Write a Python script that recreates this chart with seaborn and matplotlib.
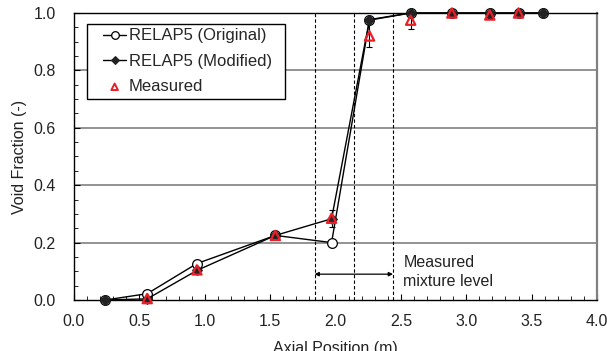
import matplotlib
matplotlib.use("Agg")
import matplotlib.pyplot as plt
import seaborn as sns
import pandas as pd
from matplotlib.ticker import MultipleLocator
from matplotlib.patches import Rectangle

sns.set_style("ticks")
plt.rcParams['font.family'] = ['Liberation Sans', 'DejaVu Sans']

x_model = [0.24, 0.56, 0.94, 1.54, 1.97, 2.26, 2.575, 2.89, 3.18, 3.40, 3.59]
y_original = [0.0, 0.022, 0.127, 0.225, 0.200, 0.975, 1.0, 1.0, 1.0, 1.0, 1.0]
y_modified = [0.0, 0.004, 0.103, 0.225, 0.283, 0.977, 1.0, 1.0, 1.0, 1.0, 1.0]

x_meas = [0.56, 0.94, 1.54, 1.97, 2.26, 2.575, 2.89, 3.18, 3.40]
y_meas = [0.005, 0.105, 0.225, 0.285, 0.920, 0.975, 1.0, 0.993, 1.0]
err_meas = [0.005, 0.01, 0.01, 0.03, 0.04, 0.03, 0.005, 0.01, 0.005]

level_lines = [1.84, 2.14, 2.44]

df_o = pd.DataFrame({"x": x_model, "y": y_original})
df_m = pd.DataFrame({"x": x_model, "y": y_modified})
df_e = pd.DataFrame({"x": x_meas, "y": y_meas, "e": err_meas})

FS = 11.5
TXT = "#222222"

fig = plt.figure(figsize=(6.07, 3.51), dpi=100)
ax = fig.add_axes([0.1219, 0.1453, 0.8616, 0.8177])

for yv in [0.2, 0.4, 0.6, 0.8]:
    ax.axhline(yv, color="#808080", lw=1.2, zorder=0)

for xv in level_lines:
    ax.axvline(xv, color="black", lw=0.8, ls=(0, (3, 2)), zorder=1)

ax.errorbar(df_e["x"], df_e["y"], yerr=df_e["e"], fmt="none", ecolor="black",
            elinewidth=0.8, capsize=2.5, capthick=0.8, zorder=2)

sns.lineplot(data=df_o, x="x", y="y", ax=ax, color="black", lw=1.0, marker="o",
             markersize=7, markerfacecolor="white", markeredgecolor="black",
             markeredgewidth=0.9, label="RELAP5 (Original)", zorder=3, clip_on=False)
sns.lineplot(data=df_m, x="x", y="y", ax=ax, color="black", lw=1.0, marker="D",
             markersize=5.5, markerfacecolor="#222222", markeredgecolor="#222222",
             label="RELAP5 (Modified)", zorder=4, clip_on=False)
sns.scatterplot(data=df_e, x="x", y="y", ax=ax, marker="^", s=45,
                facecolor="none", edgecolor="#e8202a", linewidth=1.6,
                label="Measured", zorder=5, clip_on=False)

ax.annotate("", xy=(1.84, 0.09), xytext=(2.44, 0.09),
            arrowprops=dict(arrowstyle="<|-|>", color="black", lw=0.9,
                            shrinkA=0, shrinkB=0, mutation_scale=6))
ax.text(2.52, 0.129, "Measured", fontsize=FS, color=TXT, va="center", ha="left")
ax.text(2.52, 0.063, "mixture level", fontsize=FS, color=TXT, va="center", ha="left")

ax.set_xlim(0, 4.0)
ax.set_ylim(0, 1.0)
ax.xaxis.set_major_locator(MultipleLocator(0.5))
ax.xaxis.set_minor_locator(MultipleLocator(0.1))
ax.yaxis.set_major_locator(MultipleLocator(0.2))
ax.yaxis.set_minor_locator(MultipleLocator(0.05))
ax.set_xticks(ax.get_xticks())
ax.set_yticks(ax.get_yticks())
ax.set_xticklabels([f"{v:.1f}" for v in ax.get_xticks()])
ax.set_yticklabels([f"{v:.1f}" for v in ax.get_yticks()])
ax.set_xlim(0, 4.0)
ax.set_ylim(0, 1.0)
ax.tick_params(axis="both", which="major", direction="in", length=4, width=0.8,
               labelsize=FS, colors="black", labelcolor=TXT)
ax.tick_params(axis="x", which="major", pad=10)
ax.tick_params(axis="y", which="major", pad=13)
ax.tick_params(axis="both", which="minor", direction="in", length=3, width=0.7)
ax.set_xlabel("Axial Position (m)", fontsize=FS, color=TXT, labelpad=9)
ax.set_ylabel("Void Fraction (-)", fontsize=FS, color=TXT, labelpad=5)

for s in ["left", "bottom", "top"]:
    ax.spines[s].set_color("black")
    ax.spines[s].set_linewidth(1.0)
    ax.spines[s].set_visible(True)
ax.spines["right"].set_color("#808080")
ax.spines["right"].set_linewidth(1.6)
ax.spines["right"].set_visible(True)

leg = ax.legend(loc="upper left", bbox_to_anchor=(0.0554, 0.946), fontsize=12,
                frameon=False, borderpad=0, borderaxespad=0,
                labelspacing=0.62, handlelength=1.4, handletextpad=0.15)
hs = leg.legend_handles
hs[0].set_markersize(5.5)
hs[1].set_markersize(4.5)
hs[2].set_sizes([22])
hs[2].set_linewidth(1.4)

ax.add_patch(Rectangle((0.0249, 0.700), 0.378, 0.262, transform=ax.transAxes,
                       facecolor="white", edgecolor="black", lw=1.0, zorder=6))
leg.set_zorder(7)

fig.savefig("out.png", dpi=100)
